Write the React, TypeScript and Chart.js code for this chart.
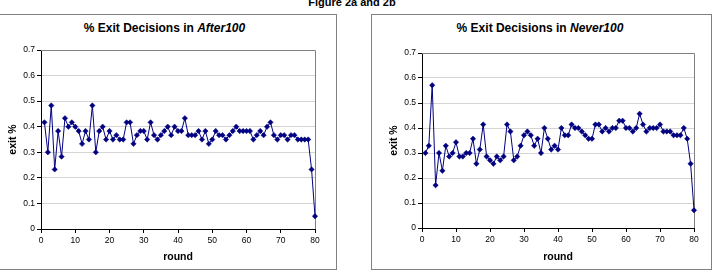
import React, { useEffect, useRef } from "react";
import { Chart, registerables } from "chart.js";

Chart.register(...registerables);

const FONT = '"Liberation Sans", Arial, Helvetica, sans-serif';
const NAVY = "#000080";

const figureTitle = "Figure 2a and 2b";
const titlePrefix = "% Exit Decisions in ";
const titleA = "After100";
const titleB = "Never100";
const xAxisTitle = "round";
const yAxisTitle = "exit %";

const xTickLabels = ["0", "10", "20", "30", "40", "50", "60", "70", "80"];
const yTickLabels = ["0", "0.1", "0.2", "0.3", "0.4", "0.5", "0.6", "0.7"];

const after100 = [
  0.417, 0.3, 0.483, 0.233, 0.383, 0.283, 0.433, 0.4, 0.417, 0.4,
  0.383, 0.333, 0.383, 0.35, 0.483, 0.3, 0.383, 0.4, 0.35, 0.383,
  0.35, 0.367, 0.35, 0.35, 0.417, 0.417, 0.333, 0.367, 0.383, 0.383,
  0.35, 0.417, 0.367, 0.35, 0.367, 0.383, 0.4, 0.367, 0.4, 0.383,
  0.383, 0.433, 0.367, 0.367, 0.367, 0.383, 0.35, 0.383, 0.333, 0.35,
  0.383, 0.367, 0.367, 0.35, 0.367, 0.383, 0.4, 0.383, 0.383, 0.383,
  0.383, 0.35, 0.367, 0.383, 0.367, 0.4, 0.417, 0.367, 0.35, 0.367,
  0.367, 0.35, 0.367, 0.367, 0.35, 0.35, 0.35, 0.35, 0.233, 0.05,
];

const never100 = [
  0.3, 0.329, 0.571, 0.171, 0.3, 0.229, 0.329, 0.286, 0.3, 0.343,
  0.286, 0.286, 0.3, 0.3, 0.357, 0.257, 0.314, 0.414, 0.286, 0.271,
  0.257, 0.286, 0.271, 0.286, 0.414, 0.386, 0.271, 0.286, 0.329, 0.371,
  0.386, 0.371, 0.329, 0.357, 0.3, 0.4, 0.357, 0.314, 0.329, 0.314,
  0.4, 0.371, 0.371, 0.414, 0.4, 0.4, 0.386, 0.371, 0.357, 0.357,
  0.414, 0.414, 0.386, 0.4, 0.386, 0.4, 0.4, 0.429, 0.429, 0.4,
  0.4, 0.386, 0.4, 0.457, 0.414, 0.386, 0.4, 0.4, 0.4, 0.414,
  0.386, 0.386, 0.386, 0.371, 0.371, 0.371, 0.4, 0.357, 0.257, 0.071,
];

const rounds = after100.map((_, i) => i + 1);

const framePlugin = {
  id: "plotFrame",
  beforeDatasetsDraw(chart: any) {
    const { ctx, chartArea } = chart;
    const top = Math.round(chartArea.top) + 0.5;
    const right = Math.round(chartArea.right) + 0.5;
    const left = Math.round(chartArea.left);
    const bottom = Math.round(chartArea.bottom);
    ctx.save();
    ctx.strokeStyle = "#808080";
    ctx.lineWidth = 1;
    ctx.beginPath();
    ctx.moveTo(left, top);
    ctx.lineTo(right, top);
    ctx.lineTo(right, bottom);
    ctx.stroke();
    ctx.restore();
  },
};

type ChartProps = {
  values: number[];
  left: number;
  width: number;
  yAxisWidth: number;
  padTop: number;
  padRight: number;
  xAxisHeight: number;
  yTitlePad: number;
};

function ExitChart(p: ChartProps) {
  const ref = useRef<HTMLCanvasElement>(null);
  useEffect(() => {
    const chart = new Chart(ref.current as HTMLCanvasElement, {
      type: "line",
      data: {
        datasets: [
          {
            data: p.values.map((v, i) => ({ x: rounds[i], y: v })),
            borderColor: NAVY,
            backgroundColor: NAVY,
            borderWidth: 1,
            pointStyle: "rectRot",
            pointRadius: 2.7,
            pointBorderWidth: 0.5,
            pointBackgroundColor: NAVY,
            pointBorderColor: NAVY,
            tension: 0,
            clip: false as any,
          },
        ],
      },
      options: {
        animation: false,
        responsive: false,
        maintainAspectRatio: false,
        devicePixelRatio: 1,
        layout: { padding: { top: p.padTop, right: p.padRight, left: 0, bottom: 0 } },
        plugins: {
          legend: { display: false },
          tooltip: { enabled: false },
          title: { display: false },
        },
        scales: {
          x: {
            type: "linear",
            min: 0,
            max: 80,
            ticks: {
              stepSize: 10,
              autoSkip: false,
              maxRotation: 0,
              padding: 3,
              color: "#000",
              font: { size: 8.5, family: FONT },
              callback: (v: any, i: number) => xTickLabels[i] ?? String(v),
            },
            grid: { drawOnChartArea: false, drawTicks: true, tickLength: 4, tickColor: "#000" },
            border: { color: "#000", width: 1 },
            title: {
              display: true,
              text: xAxisTitle,
              color: "#000",
              font: { size: 10.5, weight: "bold", family: FONT },
              padding: { top: 0, bottom: 5.7 },
            },
            afterFit: (s: any) => {
              s.height = p.xAxisHeight;
            },
          },
          y: {
            type: "linear",
            min: 0,
            max: 0.7,
            ticks: {
              stepSize: 0.1,
              padding: 2,
              color: "#000",
              font: { size: 8.5, family: FONT },
              callback: (v: any, i: number) => yTickLabels[i] ?? String(v),
            },
            grid: { color: "#d4d4d4", tickColor: "#000", tickLength: 4 },
            border: { color: "#000", width: 1 },
            title: {
              display: true,
              text: yAxisTitle,
              color: "#000",
              font: { size: 10.5, weight: "bold", family: FONT },
              padding: { top: p.yTitlePad, bottom: 0 },
            },
            afterFit: (s: any) => {
              s.width = p.yAxisWidth;
            },
          },
        },
      } as any,
      plugins: [framePlugin],
    });
    return () => chart.destroy();
  }, []);
  return (
    <canvas
      ref={ref}
      width={p.width}
      height={255}
      style={{ position: "absolute", left: p.left, top: 14, width: p.width, height: 255 }}
    />
  );
}

const titleStyle = (center: number): React.CSSProperties => ({
  position: "absolute",
  left: center - 200,
  width: 400,
  top: 21.5,
  textAlign: "center",
  font: `bold 12px ${FONT}`,
  lineHeight: "12px",
  color: "#000",
  whiteSpace: "nowrap",
});

export default function App() {
  return (
    <div
      style={{
        position: "absolute",
        left: 0,
        top: 0,
        width: 717,
        height: 271,
        overflow: "hidden",
        background: "#fff",
      }}
    >
      <div
        style={{
          position: "absolute",
          left: 252,
          width: 200,
          top: -3,
          textAlign: "center",
          font: `bold 11px ${FONT}`,
          lineHeight: "11px",
          whiteSpace: "nowrap",
        }}
      >
        {figureTitle}
      </div>
      <div style={{ position: "absolute", left: -1, top: 14, width: 338, height: 256, border: "1px solid #808080", boxSizing: "border-box" }} />
      <div style={{ position: "absolute", left: 371, top: 14, width: 341, height: 256, border: "1px solid #808080", boxSizing: "border-box" }} />
      <div style={titleStyle(164.5)}>
        {titlePrefix}
        <i>{titleA}</i>
      </div>
      <div style={titleStyle(540)}>
        {titlePrefix}
        <i>{titleB}</i>
      </div>
      <ExitChart values={after100} left={0} width={337} yAxisWidth={41} padTop={36} padRight={22} xAxisHeight={40} yTitlePad={7.2} />
      <ExitChart values={never100} left={371} width={342} yAxisWidth={51} padTop={39} padRight={19} xAxisHeight={41} yTitlePad={16.7} />
    </div>
  );
}
